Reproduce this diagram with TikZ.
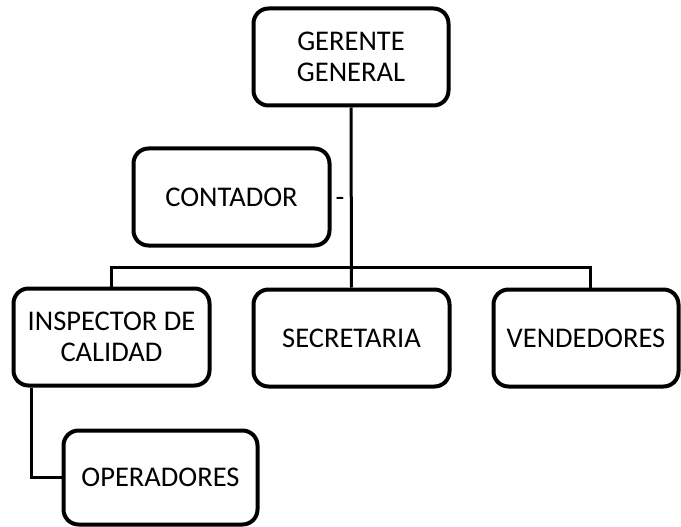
\documentclass[tikz,border=0pt]{standalone}
\usepackage{fontspec}
\setmainfont{Carlito}
\begin{document}
\begin{tikzpicture}[x=1pt,y=-1pt,
  orgbox/.style={draw=black,line width=4pt,rounded corners=15pt,fill=white,
    inner sep=0pt,align=center,font=\fontsize{28.5}{31}\selectfont},
  link/.style={draw=black,line width=3pt}]
\useasboundingbox (0,0) rectangle (681,527);
\node[orgbox,minimum width=195pt,minimum height=97pt] (ger) at (351,57) {GERENTE\\GENERAL};
\node[orgbox,minimum width=196pt,minimum height=97pt] (cont) at (231.5,197) {CONTADOR};
\node[orgbox,minimum width=196pt,minimum height=97pt] (insp) at (111.5,337) {INSPECTOR DE\\CALIDAD};
\node[orgbox,minimum width=196pt,minimum height=97pt] (sec) at (351.5,338) {SECRETARIA};
\node[orgbox,minimum width=185pt,minimum height=97pt] (vend) at (586,338) {VENDEDORES};
\node[orgbox,minimum width=194pt,minimum height=94pt] (oper) at (160.5,477.5) {OPERADORES};
\node[inner sep=0pt,font=\fontsize{28.5}{31}\selectfont] (dash) at (340,202) {-};
\coordinate (bus) at (351,267);
\begin{scope}[on background layer/.try]
\draw[link] (ger.south) -- (sec.north);
\draw[link] (insp.north) |- (bus) -| ([xshift=4pt]vend.north);
\draw[link] ([xshift=20pt]insp.south west) |- (oper.west);
\end{scope}
\end{tikzpicture}
\end{document}
